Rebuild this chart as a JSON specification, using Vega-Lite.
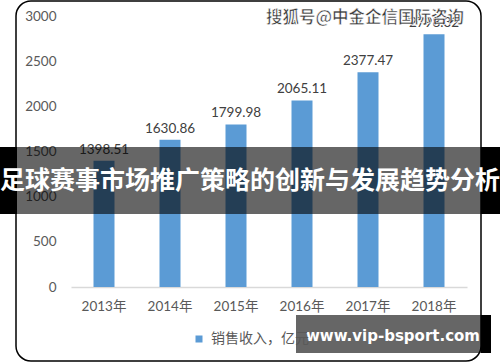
{
  "$schema": "https://vega.github.io/schema/vega-lite/v6.json",
  "width": 396,
  "height": 271,
  "autosize": {"type": "none"},
  "padding": {"left": 71, "top": 16, "right": 33, "bottom": 75},
  "background": "white",
  "config": {
    "view": {"stroke": null},
    "font": "Lato, Noto Sans CJK SC"
  },
  "data": {
    "values": [
      {"year": "2013年", "revenue": 1398.51},
      {"year": "2014年", "revenue": 1630.86},
      {"year": "2015年", "revenue": 1799.98},
      {"year": "2016年", "revenue": 2065.11},
      {"year": "2017年", "revenue": 2377.47},
      {"year": "2018年", "revenue": 2798.32}
    ]
  },
  "layer": [
    {
      "mark": {"type": "bar", "width": 21},
      "encoding": {
        "x": {
          "field": "year", "type": "nominal", "sort": null,
          "scale": {"paddingInner": 0.68, "paddingOuter": 0.34},
          "axis": {
            "title": null, "labelAngle": 0, "ticks": false,
            "domainColor": "#d9d9d9", "domainWidth": 1.5,
            "labelFontSize": 13.5, "labelColor": "#595959",
            "labelPadding": 12, "labelFont": "Lato, Noto Sans CJK SC"
          }
        },
        "y": {
          "field": "revenue", "type": "quantitative",
          "scale": {"domain": [0, 3000], "nice": false},
          "axis": {
            "title": null, "grid": false, "domain": false, "ticks": false,
            "values": [0, 500, 1000, 1500, 2000, 2500, 3000], "format": "d",
            "labelFontSize": 13.5, "labelColor": "#595959", "labelPadding": 15
          }
        },
        "color": {
          "datum": "销售收入，亿元", "type": "nominal",
          "scale": {"range": ["#5B9BD5"]},
          "legend": {
            "title": null, "orient": "none", "legendX": 121, "legendY": 316,
            "symbolType": "square", "symbolSize": 49, "symbolStrokeWidth": 0,
            "labelFontSize": 14, "labelColor": "#595959",
            "labelFont": "Noto Sans CJK SC", "labelOffset": 5
          }
        }
      }
    },
    {
      "mark": {"type": "text", "dy": -11, "fontSize": 13.5, "color": "#404040", "baseline": "middle"},
      "encoding": {
        "x": {"field": "year", "type": "nominal", "sort": null},
        "y": {"field": "revenue", "type": "quantitative"},
        "text": {"field": "revenue", "type": "quantitative", "format": ".2f"}
      }
    },
    {
      "data": {"values": [{}]},
      "mark": {"type": "rect", "fill": null, "fillOpacity": 0, "stroke": "black", "strokeWidth": 1.5, "cornerRadius": 15},
      "encoding": {
        "x": {"value": -55}, "x2": {"value": 410},
        "y": {"value": -15}, "y2": {"value": 345}
      }
    },
    {
      "data": {"values": [{}]},
      "mark": {"type": "text", "text": "搜狐号@中金企信国际咨询", "font": "Noto Sans CJK SC", "fontSize": 16.5, "fontWeight": "bold", "fill": "#3a3a3a", "stroke": "white", "strokeWidth": 0.6, "align": "center", "baseline": "middle"},
      "encoding": {"x": {"value": 294}, "y": {"value": 2}}
    },
    {
      "data": {"values": [{}]},
      "mark": {"type": "rect", "fill": "black", "opacity": 0.6},
      "encoding": {
        "x": {"value": -54}, "x2": {"value": 410},
        "y": {"value": 131}, "y2": {"value": 198}
      }
    },
    {
      "data": {"values": [{}]},
      "mark": {"type": "rect", "fill": "black"},
      "encoding": {
        "x": {"value": -71}, "x2": {"value": -54},
        "y": {"value": 131}, "y2": {"value": 198}
      }
    },
    {
      "data": {"values": [{}]},
      "mark": {"type": "rect", "fill": "black"},
      "encoding": {
        "x": {"value": 410}, "x2": {"value": 429},
        "y": {"value": 131}, "y2": {"value": 198}
      }
    },
    {
      "data": {"values": [{}]},
      "mark": {"type": "text", "text": "足球赛事市场推广策略的创新与发展趋势分析", "font": "Noto Sans CJK SC", "fontSize": 25, "fontWeight": "bold", "fill": "white", "align": "center", "baseline": "middle"},
      "encoding": {"x": {"value": 179}, "y": {"value": 165}}
    },
    {
      "data": {"values": [{}]},
      "mark": {"type": "rect", "fill": "black", "opacity": 0.6},
      "encoding": {
        "x": {"value": 225}, "x2": {"value": 410},
        "y": {"value": 299}, "y2": {"value": 337}
      }
    },
    {
      "data": {"values": [{}]},
      "mark": {"type": "rect", "fill": "black"},
      "encoding": {
        "x": {"value": 410}, "x2": {"value": 420},
        "y": {"value": 299}, "y2": {"value": 337}
      }
    },
    {
      "data": {"values": [{}]},
      "mark": {"type": "text", "text": "www.vip-bsport.com", "font": "DejaVu Sans", "fontSize": 15, "fontWeight": "bold", "fill": "white", "align": "center", "baseline": "middle"},
      "encoding": {"x": {"value": 322}, "y": {"value": 320}}
    }
  ]
}
